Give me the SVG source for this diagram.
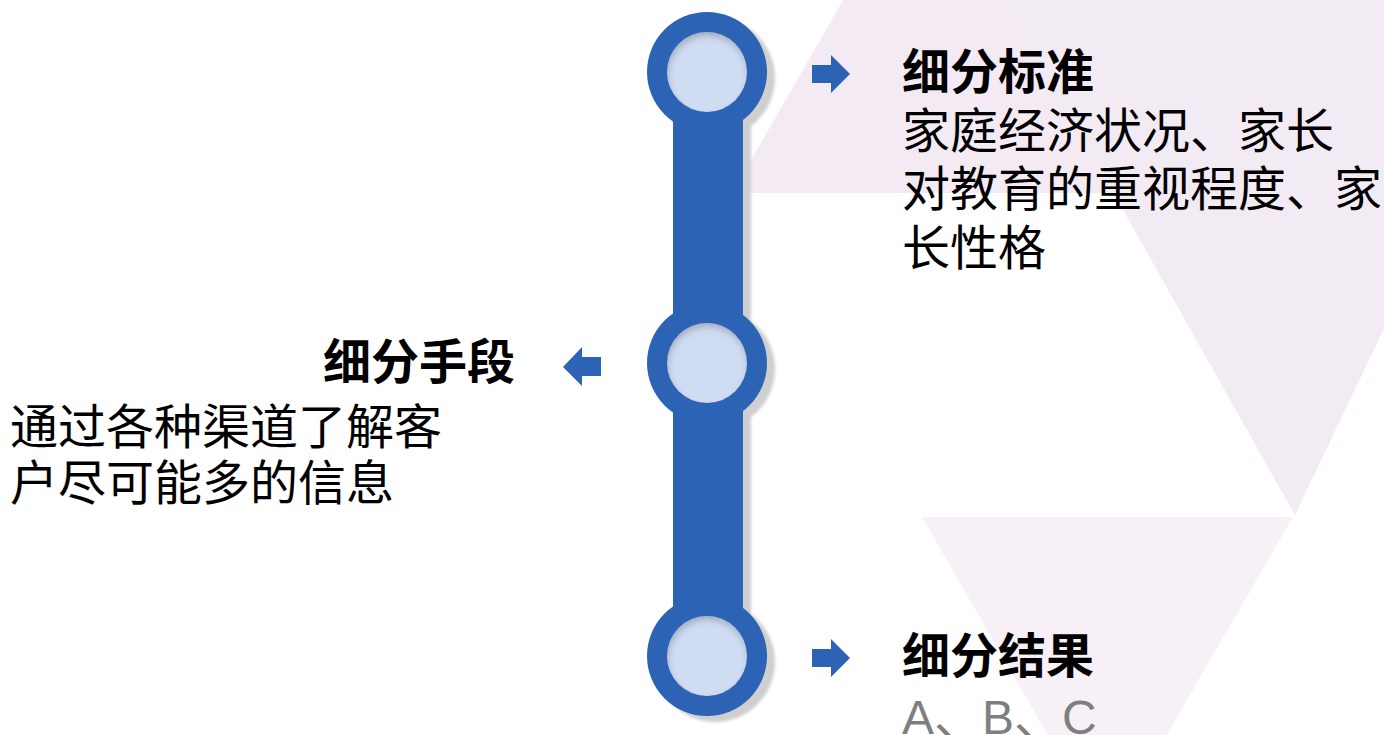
<svg xmlns="http://www.w3.org/2000/svg" width="1384" height="735" viewBox="0 0 1384 735">
  <defs>
    <style>
      .tri-a { fill: #f4eaf3; }
      .tri-b { fill: #f3ebf4; }
      .tri-c { fill: #f7f1f7; }
      .blue { fill: #2d63b5; }
      .shadow { fill: #cfcfcf; }
      .inner { fill: #cfdcf2; }
      .title { font-family: "Noto Sans CJK SC", "Liberation Sans", sans-serif; font-size: 48px; font-weight: bold; fill: #000; }
      .body { font-family: "Noto Sans CJK SC", "Liberation Sans", sans-serif; font-size: 48px; fill: #000; }
      .grey { font-family: "Liberation Sans", "Noto Sans CJK SC", sans-serif; font-size: 48px; fill: #7f7f7f; }
    </style>
    <filter id="soft" x="-20%" y="-20%" width="140%" height="140%">
      <feGaussianBlur stdDeviation="1.5"/>
    </filter>
    <filter id="inset" x="-20%" y="-20%" width="140%" height="140%">
      <feGaussianBlur in="SourceAlpha" stdDeviation="3" result="b"/>
      <feOffset in="b" dx="1" dy="4" result="o"/>
      <feComposite in="SourceAlpha" in2="o" operator="out" result="ring"/>
      <feFlood flood-color="#3a4150" flood-opacity="0.45"/>
      <feComposite in2="ring" operator="in" result="sh"/>
      <feMerge>
        <feMergeNode in="SourceGraphic"/>
        <feMergeNode in="sh"/>
      </feMerge>
    </filter>
  </defs>

  <rect x="0" y="0" width="1384" height="735" fill="#ffffff"/>

  <g id="background">
    <polygon class="tri-a" points="732,193 1114,193 925,-142"/>
    <polygon class="tri-b" points="982,-40 1560,-40 1295,515"/>
    <polygon class="tri-c" points="922,517 1293,517 1107,838"/>
  </g>

  <g id="shadows" filter="url(#soft)">
    <rect class="shadow" x="681" y="78" width="70" height="584"/>
    <circle class="shadow" cx="715" cy="78" r="60"/>
    <circle class="shadow" cx="715" cy="369" r="60"/>
    <circle class="shadow" cx="715" cy="662" r="60"/>
  </g>

  <g id="connectors">
    <rect class="blue" x="673" y="72" width="70" height="584"/>
  </g>

  <g id="node-standard">
    <circle class="blue" cx="707" cy="72" r="60"/>
    <circle class="inner" cx="707" cy="72" r="40" filter="url(#inset)"/>
    <path class="blue" d="M812,65 H831 V55 L850,74 L831,93 V83 H812 Z"/>
    <text class="title" x="902" y="89">细分标准</text>
    <text class="body" x="902" y="148">家庭经济状况、家长</text>
    <text class="body" x="902" y="206">对教育的重视程度、家</text>
    <text class="body" x="902" y="265">长性格</text>
  </g>

  <g id="node-means">
    <circle class="blue" cx="707" cy="363" r="60"/>
    <circle class="inner" cx="707" cy="363" r="40" filter="url(#inset)"/>
    <path class="blue" d="M601,357 H582 V347 L563,367 L582,386 V376 H601 Z"/>
    <text class="title" x="515" y="379" text-anchor="end">细分手段</text>
    <text class="body" x="10" y="444">通过各种渠道了解客</text>
    <text class="body" x="10" y="500">户尽可能多的信息</text>
  </g>

  <g id="node-result">
    <circle class="blue" cx="707" cy="656" r="60"/>
    <circle class="inner" cx="707" cy="656" r="40" filter="url(#inset)"/>
    <path class="blue" d="M812,649 H831 V639 L850,658 L831,677 V667 H812 Z"/>
    <text class="title" x="902" y="673">细分结果</text>
    <text class="grey" x="902" y="734">A、B、C</text>
  </g>
</svg>
